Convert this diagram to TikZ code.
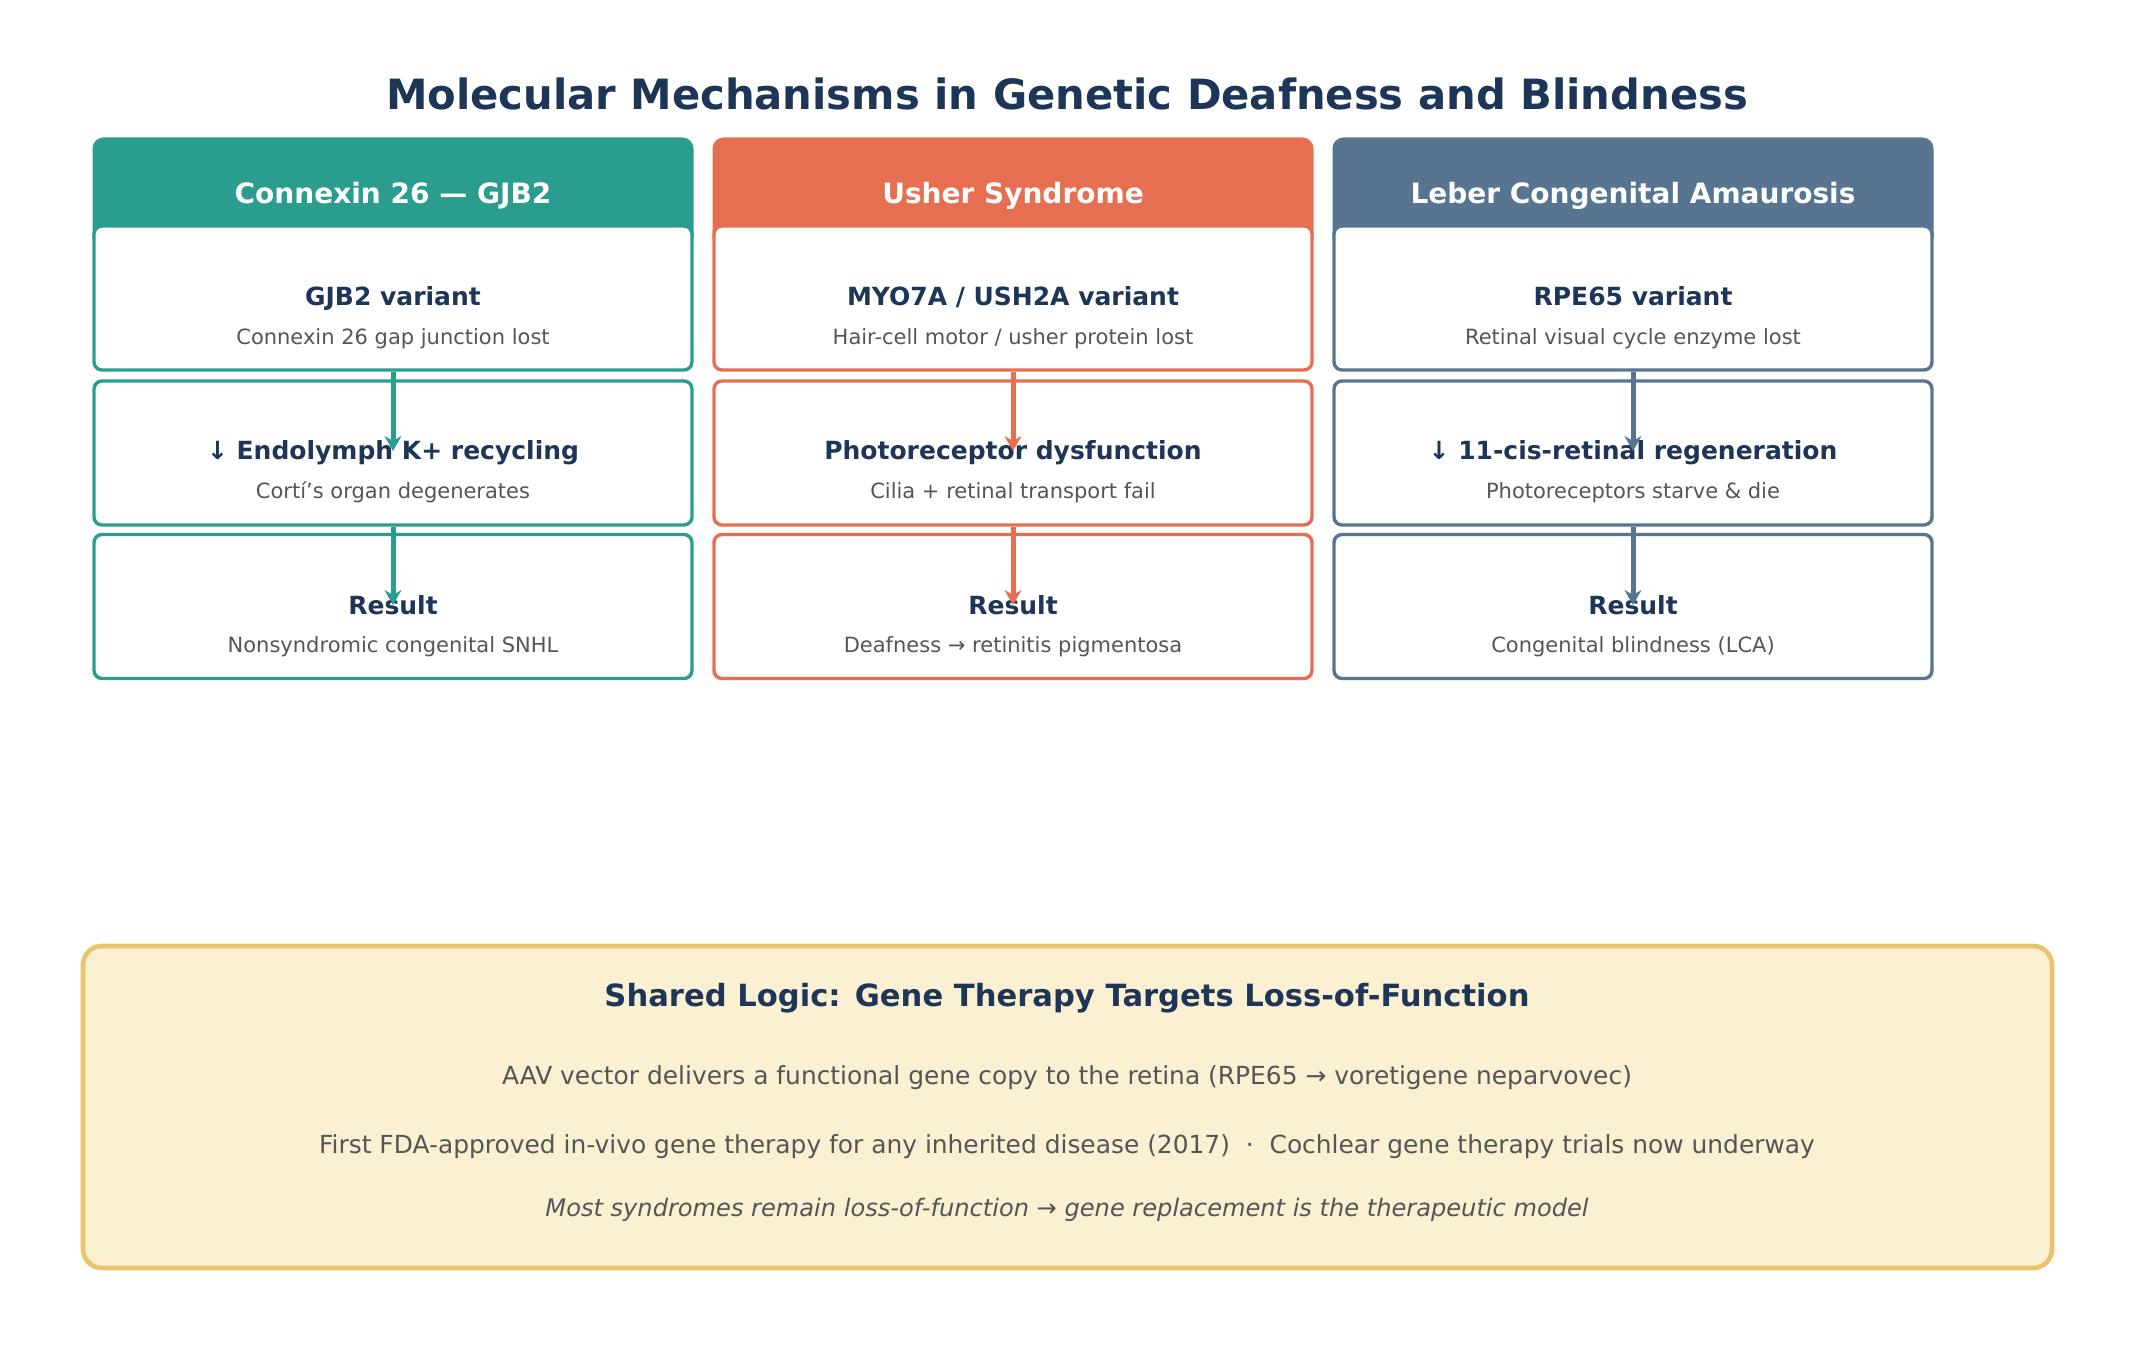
\documentclass[tikz,border=0pt]{standalone}
\usepackage{fontspec}
\setmainfont{DejaVu Sans}
\usetikzlibrary{arrows.meta}
\definecolor{cTeal}{HTML}{2A9D8F}
\definecolor{cOrange}{HTML}{E76F51}
\definecolor{cSlate}{HTML}{577590}
\definecolor{cNavy}{HTML}{1D3557}
\definecolor{cGray}{HTML}{555555}
\definecolor{cCream}{HTML}{FCF0D2}
\definecolor{cGold}{HTML}{E9C46A}
\begin{document}
\begin{tikzpicture}[x=0.5pt,y=-0.5pt,
  header/.style={fill=#1, rounded corners=5.5pt, minimum width=300.5pt, minimum height=55.5pt, inner sep=0pt},
  headtext/.style={anchor=base, text=white, font=\bfseries\fontsize{14}{17}\selectfont, inner sep=0pt},
  stepbox/.style={draw=#1, fill=white, line width=1.7pt, rounded corners=4pt, minimum width=299pt, minimum height=72pt, inner sep=0pt},
  boxtitle/.style={anchor=base, text=cNavy, font=\bfseries\fontsize{12.5}{15}\selectfont, inner sep=0pt},
  boxsub/.style={anchor=base, text=cGray, font=\fontsize{10.5}{13}\selectfont, inner sep=0pt},
  flow/.style={draw=#1, line width=2.5pt, -{Stealth[length=7.5pt,width=8.5pt,inset=2.5pt]}},
  sharedbox/.style={draw=cGold, fill=cCream, line width=2.3pt, rounded corners=9.5pt, minimum width=984.5pt, minimum height=161pt, inner sep=0pt},
  sharedtitle/.style={text=cNavy, font=\bfseries\fontsize{15.3}{18}\selectfont, inner sep=0pt},
  sharedline/.style={text=cGray, font=\fontsize{12.45}{15}\selectfont, inner sep=0pt},
  sharedital/.style={text=cGray, font=\itshape\fontsize{12.05}{14}\selectfont, inner sep=0pt}
]
\useasboundingbox[fill=white] (0,0) rectangle (2135,1352);

\node[text=cNavy, font=\bfseries\fontsize{20.85}{25}\selectfont, inner sep=0pt] (title) at (1067,94) {Molecular Mechanisms in Genetic Deafness and Blindness};

% column 1
\node[header=cTeal] (h1) at (393,193) {};
\node[headtext] (h1t) at (393,203.5) {Connexin 26 — GJB2};
\node[stepbox=cTeal] (a1) at (393,298) {};
\node[boxtitle] (a1t) at (393,306) {GJB2 variant};
\node[boxsub] (a1s) at (393,344.2) {Connexin 26 gap junction lost};
\node[stepbox=cTeal] (b1) at (393,453) {};
\node[boxtitle] (b1t) at (393,460) {↓ Endolymph K+ recycling};
\node[boxsub] (b1s) at (393,498.2) {Cortí’s organ degenerates};
\node[stepbox=cTeal] (c1) at (393,606.5) {};
\node[boxtitle] (c1t) at (393,614) {Result};
\node[boxsub] (c1s) at (393,652.2) {Nonsyndromic congenital SNHL};
\coordinate (b1in) at (393,451);
\coordinate (c1in) at (393,605);
\draw[flow=cTeal] (a1.south) -- (b1in);
\draw[flow=cTeal] (b1.south) -- (c1in);

% column 2
\node[header=cOrange] (h2) at (1013,193) {};
\node[headtext] (h2t) at (1013,203.5) {Usher Syndrome};
\node[stepbox=cOrange] (a2) at (1013,298) {};
\node[boxtitle] (a2t) at (1013,306) {MYO7A / USH2A variant};
\node[boxsub] (a2s) at (1013,344.2) {Hair-cell motor / usher protein lost};
\node[stepbox=cOrange] (b2) at (1013,453) {};
\node[boxtitle] (b2t) at (1013,460) {Photoreceptor dysfunction};
\node[boxsub] (b2s) at (1013,498.2) {Cilia + retinal transport fail};
\node[stepbox=cOrange] (c2) at (1013,606.5) {};
\node[boxtitle] (c2t) at (1013,614) {Result};
\node[boxsub] (c2s) at (1013,652.2) {Deafness → retinitis pigmentosa};
\coordinate (b2in) at (1013,451);
\coordinate (c2in) at (1013,605);
\draw[flow=cOrange] (a2.south) -- (b2in);
\draw[flow=cOrange] (b2.south) -- (c2in);

% column 3
\node[header=cSlate] (h3) at (1633,193) {};
\node[headtext] (h3t) at (1633,203.5) {Leber Congenital Amaurosis};
\node[stepbox=cSlate] (a3) at (1633,298) {};
\node[boxtitle] (a3t) at (1633,306) {RPE65 variant};
\node[boxsub] (a3s) at (1633,344.2) {Retinal visual cycle enzyme lost};
\node[stepbox=cSlate] (b3) at (1633,453) {};
\node[boxtitle] (b3t) at (1633,460) {↓ 11-cis-retinal regeneration};
\node[boxsub] (b3s) at (1633,498.2) {Photoreceptors starve \& die};
\node[stepbox=cSlate] (c3) at (1633,606.5) {};
\node[boxtitle] (c3t) at (1633,614) {Result};
\node[boxsub] (c3s) at (1633,652.2) {Congenital blindness (LCA)};
\coordinate (b3in) at (1633,451);
\coordinate (c3in) at (1633,605);
\draw[flow=cSlate] (a3.south) -- (b3in);
\draw[flow=cSlate] (b3.south) -- (c3in);

% shared logic
\node[sharedbox] (shared) at (1067.5,1107) {};
\node[sharedtitle] (st) at (1067,998) {Shared Logic: Gene Therapy Targets Loss-of-Function};
\node[sharedline] (s1) at (1067,1077.5) {AAV vector delivers a functional gene copy to the retina (RPE65 → voretigene neparvovec)};
\node[sharedline] (s2) at (1067,1147) {First FDA-approved in-vivo gene therapy for any inherited disease (2017)\ \ ·\ \ Cochlear gene therapy trials now underway};
\node[sharedital] (s3) at (1067,1209.5) {Most syndromes remain loss-of-function → gene replacement is the therapeutic model};
\end{tikzpicture}
\end{document}
